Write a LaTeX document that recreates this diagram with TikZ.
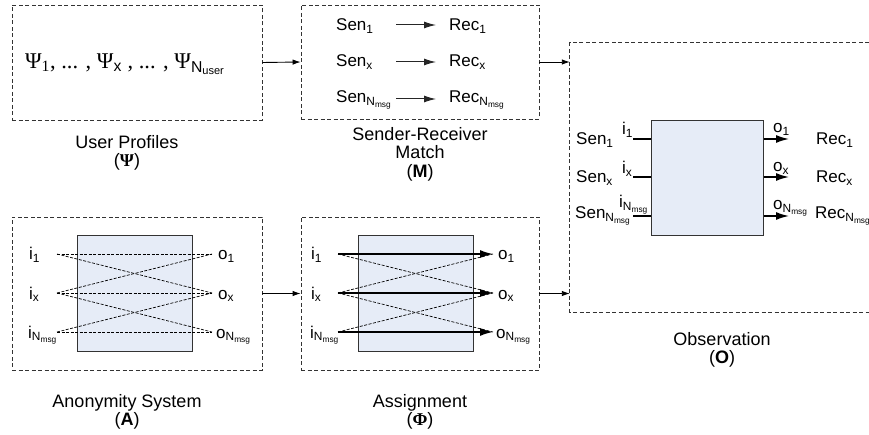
\documentclass[tikz,border=0pt]{standalone}
\usepackage{fontspec}
\setmainfont{Liberation Sans}
\newfontfamily\greekserif{Liberation Serif}
\newfontfamily\sansfam{Liberation Sans}
\usetikzlibrary{arrows.meta}
\definecolor{mixblue}{HTML}{E6ECF7}
\tikzset{
  grp/.style={draw=black!80,dash pattern=on 4pt off 2.5pt,line width=0.9pt,inner sep=0pt},
  mix/.style={draw=black!80,fill=mixblue,line width=1pt,minimum width=115pt,minimum height=115pt,inner sep=0pt},
  lbl/.style={anchor=base west,inner sep=0pt,font=\fontsize{17}{18}\selectfont},
  captxt/.style={align=center,inner sep=0pt,font=\fontsize{18}{18.5}\selectfont},
  flow/.style={-{Latex[length=8pt,width=5.5pt]},line width=0.9pt},
  pair/.style={-{Latex[length=12pt,width=7pt]},line width=1pt,draw=black!85},
  pass/.style={-{Latex[length=13pt,width=8pt]},line width=1.6pt},
  cross/.style={dash pattern=on 3pt off 1.5pt,line width=0.7pt},
}
\begin{document}
\begin{tikzpicture}[x=1pt,y=-1pt]
\path[use as bounding box] (0,0) rectangle (869,435);
% dashed groups
\node[grp,minimum width=250pt,minimum height=115pt] (prof) at (137,62.5) {};
\node[grp,minimum width=238pt,minimum height=114pt] (match) at (420,62) {};
\node[grp,minimum width=250pt,minimum height=153pt] (anon) at (137,293.5) {};
\node[grp,minimum width=238pt,minimum height=153pt] (assign) at (420,293.5) {};
\node[inner sep=0pt,minimum width=299pt,minimum height=269pt] (obs) at (719.5,177.5) {};
\draw[grp] (obs.north east) -- (obs.north west) -- (obs.south west) -- (obs.south east);
% user profiles
\node[inner sep=0pt,font=\fontsize{22.5}{26}\selectfont\greekserif] (psis) at (125,64)
  {Ψ\textsubscript{1}, ... , Ψ\textsubscript{\sansfam x} , ... , Ψ\textsubscript{\sansfam N\textsubscript{user}}};
% sender-receiver match
\node[lbl] (msen1) at (336,31) {Sen\textsubscript{1}};
\node[lbl] (msenx) at (336,67) {Sen\textsubscript{x}};
\node[lbl] (msenn) at (336,103) {Sen\textsubscript{N\textsubscript{msg}}};
\node[lbl] (mrec1) at (449,31) {Rec\textsubscript{1}};
\node[lbl] (mrecx) at (449,67) {Rec\textsubscript{x}};
\node[lbl] (mrecn) at (449,103) {Rec\textsubscript{N\textsubscript{msg}}};
\coordinate (ms1) at (396,25); \coordinate (mr1) at (436,25);
\coordinate (msx) at (396,62); \coordinate (mrx) at (436,62);
\coordinate (msn) at (396,99); \coordinate (mrn) at (436,99);
\draw[pair] (ms1) -- (mr1);
\draw[pair] (msx) -- (mrx);
\draw[pair] (msn) -- (mrn);
% anonymity system
\node[mix] (amix) at (134.5,293.5) {};
\node[lbl] (ai1) at (29,260) {i\textsubscript{1}};
\node[lbl] (aix) at (29,299) {i\textsubscript{x}};
\node[lbl] (ain) at (28,338) {i\textsubscript{N\textsubscript{msg}}};
\node[lbl] (ao1) at (218,260) {o\textsubscript{1}};
\node[lbl] (aox) at (218,299) {o\textsubscript{x}};
\node[lbl] (aon) at (216,338) {o\textsubscript{N\textsubscript{msg}}};
\coordinate (ain1) at (57,254); \coordinate (aout1) at (212,254);
\coordinate (ainx) at (57,293); \coordinate (aoutx) at (212,293);
\coordinate (ainn) at (57,332); \coordinate (aoutn) at (212,332);
\draw[cross] (ain1) -- (aout1);
\draw[cross] (ainx) -- (aoutx);
\draw[cross] (ainn) -- (aoutn);
\draw[cross] (ain1) -- (aoutx);
\draw[cross] (ainx) -- (aout1);
\draw[cross] (ainx) -- (aoutn);
\draw[cross] (ainn) -- (aoutx);
% assignment
\node[mix] (smix) at (416,293.5) {};
\node[lbl] (si1) at (311,260) {i\textsubscript{1}};
\node[lbl] (six) at (311,299) {i\textsubscript{x}};
\node[lbl] (sin) at (310,338) {i\textsubscript{N\textsubscript{msg}}};
\node[lbl] (so1) at (498,260) {o\textsubscript{1}};
\node[lbl] (sox) at (498,299) {o\textsubscript{x}};
\node[lbl] (son) at (496,338) {o\textsubscript{N\textsubscript{msg}}};
\coordinate (sin1) at (338,254); \coordinate (sout1) at (493,254);
\coordinate (sinx) at (338,293); \coordinate (soutx) at (493,293);
\coordinate (sinn) at (338,332); \coordinate (soutn) at (493,332);
\draw[cross] (sin1) -- (soutx);
\draw[cross] (sinx) -- (sout1);
\draw[cross] (sinx) -- (soutn);
\draw[cross] (sinn) -- (soutx);
\draw[pass] (sin1) -- (sout1);
\draw[pass] (sinx) -- (soutx);
\draw[pass] (sinn) -- (soutn);
% observation
\node[mix,minimum width=112pt] (omix) at (707,178.5) {};
\node[lbl] (osen1) at (576,145) {Sen\textsubscript{1}};
\node[lbl] (osenx) at (576,183) {Sen\textsubscript{x}};
\node[lbl] (osenn) at (575,219) {Sen\textsubscript{N\textsubscript{msg}}};
\node[lbl] (oi1) at (622,135) {i\textsubscript{1}};
\node[lbl] (oix) at (622,174) {i\textsubscript{x}};
\node[lbl] (oin) at (619,208) {i\textsubscript{N\textsubscript{msg}}};
\node[lbl] (oo1) at (773,133) {o\textsubscript{1}};
\node[lbl] (oox) at (773,172) {o\textsubscript{x}};
\node[lbl] (oon) at (773,210) {o\textsubscript{N\textsubscript{msg}}};
\node[lbl] (orec1) at (816,145) {Rec\textsubscript{1}};
\node[lbl] (orecx) at (816,183) {Rec\textsubscript{x}};
\node[lbl] (orecn) at (815,219) {Rec\textsubscript{N\textsubscript{msg}}};
\coordinate (oin1) at (633,139); \coordinate (oout1) at (789,139);
\coordinate (oinx) at (633,177); \coordinate (ooutx) at (789,177);
\coordinate (oinn) at (633,216); \coordinate (ooutn) at (789,216);
\draw[line width=1.6pt] (oin1) -- (oin1 -| omix.west);
\draw[line width=1.6pt] (oinx) -- (oinx -| omix.west);
\draw[line width=1.6pt] (oinn) -- (oinn -| omix.west);
\draw[pass] (oout1 -| omix.east) -- (oout1);
\draw[pass] (ooutx -| omix.east) -- (ooutx);
\draw[pass] (ooutn -| omix.east) -- (ooutn);
% flow between groups
\draw[flow] (prof.east) -- (match.west);
\draw[flow] (match.east) -- (match.east -| obs.west);
\draw[flow] (anon.east) -- (assign.west);
\draw[flow] (assign.east) -- (assign.east -| obs.west);
% captions
\node[captxt] (profcap) at (127,153) {User Profiles\\({\greekserif\bfseries Ψ})};
\node[captxt] (matchcap) at (420,154) {Sender-Receiver\\Match\\(\textbf{M})};
\node[captxt] (obscap) at (722,350) {Observation\\(\textbf{O})};
\node[captxt] (anoncap) at (127,412) {Anonymity System\\(\textbf{A})};
\node[captxt] (assigncap) at (420,412) {Assignment\\({\greekserif\bfseries Φ})};
\end{tikzpicture}
\end{document}
